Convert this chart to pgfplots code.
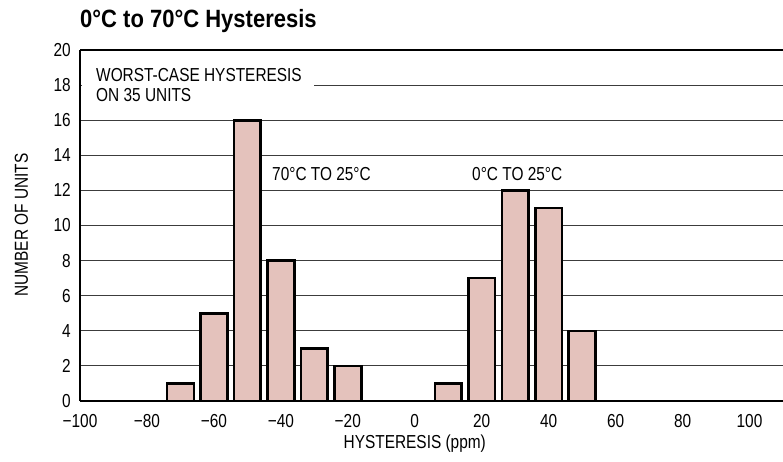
\documentclass[border=0pt]{standalone}
\usepackage{fontspec}
\setmainfont{Liberation Sans}[FakeStretch=0.82]
\newfontfamily\titlefont{Liberation Sans}[FakeStretch=0.88]
\usepackage{pgfplots}
\pgfplotsset{compat=1.18}
\definecolor{barfill}{RGB}{228,194,188}
\definecolor{gridc}{RGB}{60,60,60}
\newcommand{\lbl}{\fontsize{18.8}{20}\selectfont}

\begin{document}
\begin{tikzpicture}
\begin{axis}[
    at={(0pt,0pt)}, anchor=south west,
    scale only axis,
    width=703pt, height=351pt,
    xmin=-100, xmax=110,
    ymin=0, ymax=20,
    axis x line*=bottom, axis y line*=left,
    axis line style={-, line width=1.3pt, black},
    xtick={-100,-80,...,100},
    xticklabels={−100,−80,−60,−40,−20,0,20,40,60,80,100},
    ytick={0,2,...,20},
    ymajorgrids,
    grid style={gridc, line width=1pt},
    major tick length=0pt,
    tick label style={font=\lbl},
    /pgf/number format/assume math mode=true,
    yticklabel style={anchor=east, inner sep=0pt, xshift=-9pt},
    xticklabel style={anchor=base, inner sep=0pt, yshift=-26pt},
    clip=false,
  ]
  \addplot[ybar, bar width=8, fill=barfill, draw=black, line width=2.6pt]
    coordinates {(-70,1)(-60,5)(-50,16)(-40,8)(-30,3)(-20,2)
                 (10,1)(20,7)(30,12)(40,11)(50,4)};
  % white patch behind the note
  \fill[white] (axis cs:-99.5,16.6) rectangle (axis cs:-30,19.6);
  \draw[black, line width=1.3pt] (rel axis cs:0,1) -- (rel axis cs:1,1);
  \node[anchor=base, font=\lbl] at (axis cs:0,0) [yshift=-47pt] {HYSTERESIS (ppm)};
\end{axis}
\node[rotate=90, font=\lbl] at (-58.5pt,176pt) {NUMBER OF UNITS};
\node[anchor=base west, inner sep=0pt, font=\titlefont\bfseries\fontsize{25}{28}\selectfont]
  at (0pt,373pt) {0°C to 70°C Hysteresis};
\node[anchor=base west, inner sep=0pt, font=\lbl] at (16pt,319.3pt) {WORST-CASE HYSTERESIS};
\node[anchor=base west, inner sep=0pt, font=\lbl] at (16pt,299.3pt) {ON 35 UNITS};
\node[anchor=base west, inner sep=0pt, font=\lbl] at (192pt,221pt) {70°C TO 25°C};
\node[anchor=base west, inner sep=0pt, font=\lbl] at (392pt,221pt) {0°C TO 25°C};
\pgfresetboundingbox
\path[use as bounding box] (-80pt,-60pt) rectangle (703pt,401pt);
\end{tikzpicture}
\end{document}
